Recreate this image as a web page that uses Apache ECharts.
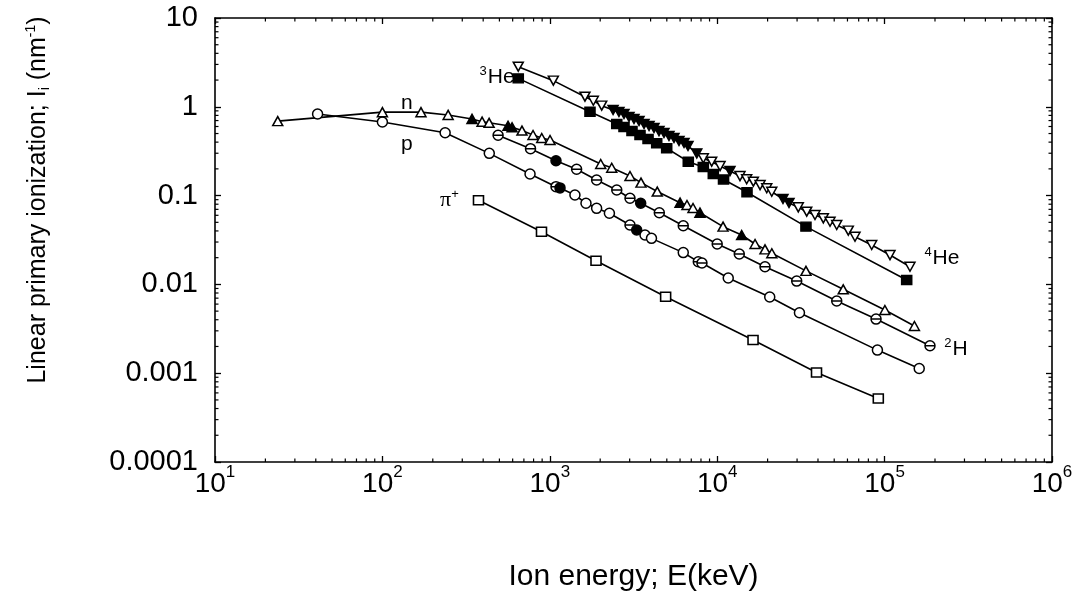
<!DOCTYPE html>
<html>
<head>
<meta charset="utf-8">
<script src="https://cdn.jsdelivr.net/npm/echarts@6/dist/echarts.min.js"></script>
<style>
html,body{margin:0;padding:0;background:#fff;}
#chart{width:1089px;height:598px;}
</style>
</head>
<body>
<div id="chart"></div>
<script>
// ---- data (E in keV, I in nm^-1) ----
// triangles ("n")
const nE = [23.7,100,170,247,343,394,434,563,595,682,794,895,1003,2014,2344,3013,3506,4384,6000,6600,7170,7890,10840,14000,16830,19300,21200,33900,56600,100400,150700];
const nI = [0.69,0.87,0.87,0.81,0.73,0.68,0.66,0.612,0.588,0.54,0.481,0.445,0.423,0.227,0.206,0.166,0.14,0.111,0.0832,0.0784,0.0725,0.0642,0.0447,0.036,0.0285,0.0248,0.0224,0.0142,0.0088,0.00515,0.0034];
const nStyle = [0,0,0,0,1,0,0,1,1,0,0,0,0,0,0,0,0,0,1,0,0,1,0,1,0,0,0,0,0,0,0];
// open circles ("p")
const pE = [41,100,237,435,762,1089,1151,1413,1645,1904,2270,3013,3304,3705,4050,6270,7710,8110,11640,20600,31000,90600,161000];
const pI = [0.83,0.675,0.51,0.299,0.175,0.126,0.122,0.1016,0.0819,0.0719,0.0632,0.0467,0.041,0.036,0.033,0.0228,0.018,0.0174,0.0118,0.00721,0.0048,0.00182,0.00113];
const pStyle = [0,0,0,0,0,2,1,0,0,0,0,2,1,0,0,0,2,2,0,0,0,0,0];
// barred circles ("2H")
const dE = [491,767,1089,1446,1904,2512,3013,3491,4510,6270,10000,13550,19300,29850,51760,88900,186700];
const dI = [0.478,0.3377,0.247,0.198,0.15,0.1156,0.0933,0.0819,0.0642,0.0458,0.0285,0.022,0.0158,0.0109,0.0065,0.00407,0.00204];
const dStyle = [2,2,1,2,2,2,2,1,2,2,2,2,2,2,2,2,2];
// squares ("pi+")
const piE = [375,892,1888,4920,16370,39200,91700];
const piI = [0.0885,0.0392,0.0185,0.00727,0.00237,0.00102,0.000519];
const piStyle = [0,0,0,0,0,0,0];
// inverted triangles (He)
const hvE = [648,1050,1622,1820,2042,2388,2589,2775,2973,3184,3412,3656,3917,4193,4490,4810,5152,5520,5913,6336,6693,7550,8260,9270,10400,11920,13680,15000,16440,18030,19770,21180,24720,26850,30500,34260,38390,43050,47200,51760,60700,66560,83750,107700,141800];
const hvI = [2.83,1.97,1.30,1.17,1.03,0.92,0.874,0.83,0.767,0.729,0.692,0.64,0.608,0.577,0.533,0.507,0.469,0.445,0.412,0.391,0.362,0.299,0.263,0.241,0.215,0.189,0.166,0.153,0.1435,0.1315,0.121,0.1106,0.0916,0.0826,0.0738,0.0659,0.0605,0.0555,0.0508,0.0467,0.0403,0.0344,0.0278,0.0214,0.0158];
const hvStyle = [0,0,0,0,0,1,1,1,1,1,1,1,1,1,1,1,1,1,1,1,1,1,0,0,0,1,0,0,0,0,0,0,1,1,0,0,0,0,0,0,0,0,0,0,0];
// filled squares (He)
const hsE = [648,1738,2512,2775,3097,3458,3863,4352,4992,6719,8260,9480,10910,15070,33900,135500];
const hsI = [2.09,0.88,0.64,0.593,0.533,0.481,0.434,0.388,0.341,0.241,0.210,0.175,0.152,0.109,0.0447,0.0112];
const hsStyle = [1,1,1,1,1,1,1,1,1,1,1,1,1,1,1,1];
// curve labels
const labelNames = ['{t|n}','{t|p}','{g|π}{s|+}','{s|3}{t|He}','{s|4}{t|He}','{s|2}{t|H}'];
const labelE = [140,140,253,484,220000,267000];
const labelI = [1.10,0.381,0.089,2.17,0.0198,0.001875];
// axis ticks
const yTickLabels = {'-4':'0.0001','-3':'0.001','-2':'0.01','-1':'0.1','0':'1','1':'10'};
const xName = 'Ion energy; E(keV)';
const yName = 'Linear primary ionization; I{sub|i} (nm{sup|-1})';

// ---- build ----
const SYM = {
  triUp: 'path://M5,0L10,9L0,9Z',
  triDown: 'path://M0,0L10,0L5,9Z',
  circle: 'circle',
  barred: 'path://M0,5A5,5,0,1,1,10,5A5,5,0,1,1,0,5ZM0,5L10,5',
  rect: 'rect'
};
function mk(E, I, S) {
  return E.map((e, i) => {
    const s = S[i];
    const item = {value: [e, I[i]], itemStyle: {color: s === 1 ? '#000' : '#fff'}};
    if (s === 2) item.symbol = SYM.barred;
    return item;
  });
}
function lineSeries(name, E, I, S, symbol, size) {
  return {
    name, type: 'line', data: mk(E, I, S), symbol: symbol, symbolSize: size,
    symbolKeepAspect: false, showAllSymbol: true, smooth: false,
    lineStyle: {color: '#000', width: 1.6},
    itemStyle: {color: '#fff', borderColor: '#000', borderWidth: 1.5},
    emphasis: {disabled: true}, z: 3
  };
}
const xMinor = [], yMinor = [];
for (let k = 1; k <= 5; k++) for (let m = 2; m <= 9; m++) xMinor.push([m * Math.pow(10, k), 1]);
for (let k = -4; k <= 0; k++) for (let m = 2; m <= 9; m++) yMinor.push([100, m * Math.pow(10, k)]);

function tickLine(x1, y1, x2, y2) {
  return {type: 'line', shape: {x1, y1, x2, y2}, style: {stroke: '#000', lineWidth: 1.2}};
}
const FONT = 'Liberation Sans';
const chart = echarts.init(document.getElementById('chart'));
const axisCommon = {
  axisLine: {show: true, lineStyle: {color: '#000', width: 1.6}},
  axisTick: {show: true, inside: true, length: 6, lineStyle: {color: '#000', width: 1.3}},
  splitLine: {show: false}, minorTick: {show: false}
};
const lbl = (size, extra) => Object.assign({fontSize: size, fontFamily: FONT, color: '#000', textBorderWidth: 0, opacity: 1}, extra || {});
chart.setOption({
  animation: false,
  backgroundColor: '#fff',
  grid: {left: 215, right: 37, top: 18, bottom: 136, containLabel: false},
  xAxis: [
    Object.assign({type: 'log', logBase: 10, min: 10, max: 1e6, position: 'bottom',
      name: xName, nameLocation: 'middle', nameGap: 100,
      nameTextStyle: {fontFamily: FONT, fontSize: 30, color: '#000'},
      axisLabel: {margin: 6, color: '#000', fontFamily: FONT,
        formatter: v => '{b|10}{s|' + Math.round(Math.log10(v)) + '}',
        rich: {b: {fontSize: 28, fontFamily: FONT, color: '#000', verticalAlign: 'bottom', lineHeight: 30},
               s: {fontSize: 17, fontFamily: FONT, color: '#000', verticalAlign: 'bottom', padding: [0, 0, 17, 0], lineHeight: 17}}}
    }, axisCommon),
    Object.assign({type: 'log', logBase: 10, min: 10, max: 1e6, position: 'top', axisLabel: {show: false}}, axisCommon)
  ],
  yAxis: [
    Object.assign({type: 'log', logBase: 10, min: 1e-4, max: 10, position: 'left',
      name: yName, nameLocation: 'middle', nameGap: 163, nameRotate: 90,
      nameTextStyle: {fontFamily: FONT, fontSize: 25, color: '#000', padding: [0, 0, 0, 80],
        rich: {sub: {fontSize: 14, fontFamily: FONT, color: '#000', padding: [14, 0, 0, 0]},
               sup: {fontSize: 14, fontFamily: FONT, color: '#000', padding: [0, 0, 14, 0]}}},
      axisLabel: {margin: 17, color: '#000', fontFamily: FONT, fontSize: 29,
        formatter: v => yTickLabels[String(Math.round(Math.log10(v)))]}
    }, axisCommon),
    Object.assign({type: 'log', logBase: 10, min: 1e-4, max: 10, position: 'right', axisLabel: {show: false}}, axisCommon)
  ],
  series: [
    lineSeries('pi+', piE, piI, piStyle, SYM.rect, [10, 9]),
    lineSeries('p', pE, pI, pStyle, SYM.circle, 10),
    lineSeries('2H', dE, dI, dStyle, SYM.circle, 10),
    lineSeries('n', nE, nI, nStyle, SYM.triUp, [10, 9]),
    lineSeries('He-sq', hsE, hsI, hsStyle, SYM.rect, [10, 9]),
    lineSeries('He-tri', hvE, hvI, hvStyle, SYM.triDown, [10, 9]),
    {
      type: 'scatter', symbol: 'circle', symbolSize: 0.5, silent: true, z: 5,
      itemStyle: {color: 'rgba(0,0,0,0)', opacity: 1},
      data: labelNames.map((t, i) => ({value: [labelE[i], labelI[i]], name: t})),
      label: {show: true, position: 'inside', color: '#000', opacity: 1, textBorderWidth: 0,
        fontFamily: FONT, fontSize: 21,
        formatter: p => p.name,
        rich: {t: lbl(21),
               s: lbl(13, {padding: [0, 1, 12, 0]}),
               g: lbl(22, {fontFamily: 'Liberation Serif'})}}
    },
    {
      type: 'custom', silent: true, z: 4, clip: false, data: xMinor,
      renderItem: (params, api) => {
        const cs = params.coordSys;
        const x = api.coord([api.value(0), 1])[0];
        const yb = cs.y + cs.height, yt = cs.y;
        return {type: 'group', children: [tickLine(x, yb, x, yb - 3.5), tickLine(x, yt, x, yt + 3.5)]};
      }
    },
    {
      type: 'custom', silent: true, z: 4, clip: false, data: yMinor,
      renderItem: (params, api) => {
        const cs = params.coordSys;
        const y = api.coord([100, api.value(1)])[1];
        const xl = cs.x, xr = cs.x + cs.width;
        return {type: 'group', children: [tickLine(xl, y, xl + 3.5, y), tickLine(xr, y, xr - 3.5, y)]};
      }
    }
  ]
});
</script>
</body>
</html>
